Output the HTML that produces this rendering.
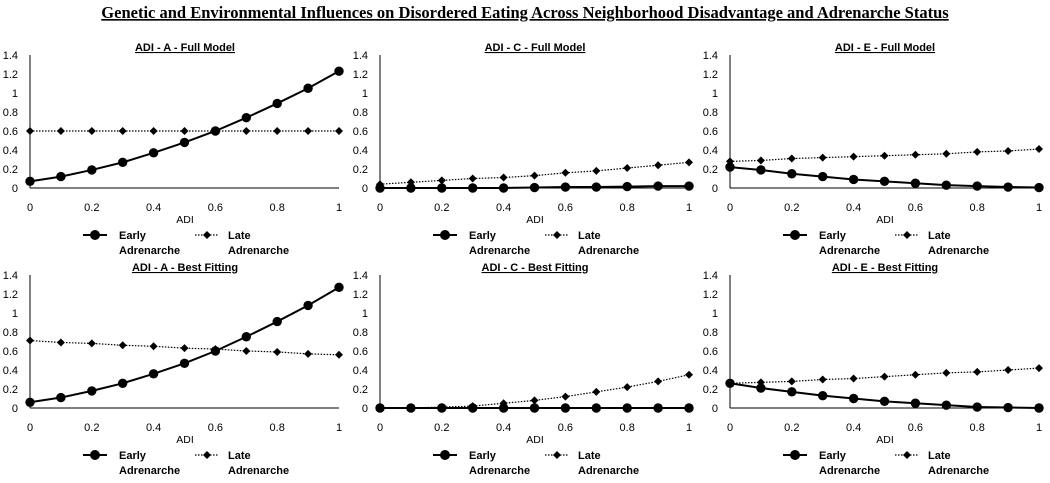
<!DOCTYPE html>
<html><head><meta charset="utf-8"><style>
body{margin:0;background:#fff;width:1050px;height:478px;overflow:hidden}
svg text{font-family:"Liberation Sans",sans-serif;fill:#000}
</style></head><body>
<svg id="c" width="1050" height="478" xmlns="http://www.w3.org/2000/svg">
<text x="525" y="18" text-anchor="middle" font-weight="bold" font-size="16.5" text-decoration="underline" style="font-family:'Liberation Serif',serif">Genetic and Environmental Influences on Disordered Eating Across Neighborhood Disadvantage and Adrenarche Status</text>
</svg>
<script>
const xValues=[0,0.1,0.2,0.3,0.4,0.5,0.6,0.7,0.8,0.9,1];
const yTicks=[0,0.2,0.4,0.6,0.8,1,1.2,1.4];
const yTickLabels=["0","0.2","0.4","0.6","0.8","1","1.2","1.4"];
const xTicks=[0,0.2,0.4,0.6,0.8,1];
const xTickLabels=["0","0.2","0.4","0.6","0.8","1"];
const panelTitles=["ADI - A - Full Model","ADI - C - Full Model","ADI - E - Full Model","ADI - A - Best Fitting","ADI - C - Best Fitting","ADI - E - Best Fitting"];
const earlyAFull=[0.07,0.12,0.19,0.27,0.37,0.48,0.6,0.74,0.89,1.05,1.23];
const lateAFull=[0.6,0.6,0.6,0.6,0.6,0.6,0.6,0.6,0.6,0.6,0.6];
const earlyCFull=[0,0,0,0,0,0.005,0.01,0.01,0.015,0.02,0.02];
const lateCFull=[0.04,0.06,0.08,0.1,0.11,0.13,0.16,0.18,0.21,0.24,0.27];
const earlyEFull=[0.22,0.19,0.15,0.12,0.09,0.07,0.05,0.03,0.02,0.01,0.005];
const lateEFull=[0.28,0.29,0.31,0.32,0.33,0.34,0.35,0.36,0.38,0.39,0.41];
const earlyABest=[0.06,0.11,0.18,0.26,0.36,0.47,0.6,0.75,0.91,1.08,1.27];
const lateABest=[0.71,0.69,0.68,0.66,0.65,0.63,0.62,0.6,0.59,0.57,0.56];
const earlyCBest=[0,0,0,0,0,0,0,0,0,0,0];
const lateCBest=[0,0,0.01,0.02,0.05,0.08,0.12,0.17,0.22,0.28,0.35];
const earlyEBest=[0.26,0.21,0.17,0.13,0.1,0.07,0.05,0.03,0.01,0.005,0];
const lateEBest=[0.26,0.27,0.28,0.3,0.31,0.33,0.35,0.37,0.38,0.4,0.42];
const earlySeries=[earlyAFull,earlyCFull,earlyEFull,earlyABest,earlyCBest,earlyEBest];
const lateSeries=[lateAFull,lateCFull,lateEFull,lateABest,lateCBest,lateEBest];
const NS="http://www.w3.org/2000/svg";
const svg=document.getElementById('c');
function mk(tag,attrs,parent){const e=document.createElementNS(NS,tag);for(const k in attrs)e.setAttribute(k,attrs[k]);(parent||svg).appendChild(e);return e;}
const axLeft=[30,380,730],axW=309;
const row0=[188,408],rowH=133;
for(let p=0;p<6;p++){
  const col=p%3,row=Math.floor(p/3);
  const x0=axLeft[col],y0=row0[row];
  const sx=v=>x0+v*axW, sy=v=>y0-v/1.4*rowH;
  const g=mk('g',{});
  
  
  const t=mk('text',{x:x0+155,y:y0-137,'text-anchor':'middle','font-size':'11','font-weight':'bold','text-decoration':'underline'},g);
  t.textContent=panelTitles[p];
  
  
  const ya=mk('line',{x1:x0,y1:y0,x2:x0,y2:y0-rowH,stroke:'#000','stroke-width':1},g);
  
  
  const xa=mk('line',{x1:x0,y1:y0,x2:x0+axW,y2:y0,stroke:'#000','stroke-width':1},g);
  
  
  yTicks.forEach((v,i)=>{const e=mk('text',{x:x0-12,y:sy(v)+4,'text-anchor':'end','font-size':'11'},g);e.textContent=yTickLabels[i];
    
    });
  xTicks.forEach((v,i)=>{const e=mk('text',{x:sx(v),y:y0+23,'text-anchor':'middle','font-size':'11'},g);e.textContent=xTickLabels[i];
    
    });
  const xt=mk('text',{x:x0+155,y:y0+35,'text-anchor':'middle','font-size':'10.5'},g);xt.textContent='ADI';
  
  
  const late=lateSeries[p],early=earlySeries[p];
  const lp=mk('polyline',{points:xValues.map((x,i)=>sx(x)+','+sy(late[i])).join(' '),fill:'none',stroke:'#000','stroke-width':1.2,'stroke-dasharray':'1.5,1.5'},g);
  
  
  xValues.forEach((x,i)=>{const cx=sx(x),cy=sy(late[i]);const d=mk('polygon',{points:`${cx},${cy-4} ${cx+4},${cy} ${cx},${cy+4} ${cx-4},${cy}`,fill:'#000'},g);
    
    });
  const ep=mk('polyline',{points:xValues.map((x,i)=>sx(x)+','+sy(early[i])).join(' '),fill:'none',stroke:'#000','stroke-width':2},g);
  
  
  xValues.forEach((x,i)=>{const c=mk('circle',{cx:sx(x),cy:sy(early[i]),r:4.7,fill:'#000'},g);
    
    });
  const ly=y0+47;
  const lg=mk('g',{},g);
  
  
  mk('line',{x1:x0+53,y1:ly,x2:x0+77,y2:ly,stroke:'#000','stroke-width':2},lg);
  mk('circle',{cx:x0+65,cy:ly,r:5,fill:'#000'},lg);
  const e1=mk('text',{x:x0+89,y:ly+4,'font-size':'11','font-weight':'bold'},lg);e1.textContent='Early';
  const e2=mk('text',{x:x0+89,y:ly+19,'font-size':'11','font-weight':'bold'},lg);e2.textContent='Adrenarche';
  mk('line',{x1:x0+165,y1:ly,x2:x0+188,y2:ly,stroke:'#000','stroke-width':1.2,'stroke-dasharray':'1.5,1.5'},lg);
  const cx=x0+177;
  mk('polygon',{points:`${cx},${ly-4} ${cx+4},${ly} ${cx},${ly+4} ${cx-4},${ly}`,fill:'#000'},lg);
  const l1=mk('text',{x:x0+198,y:ly+4,'font-size':'11','font-weight':'bold'},lg);l1.textContent='Late';
  const l2=mk('text',{x:x0+198,y:ly+19,'font-size':'11','font-weight':'bold'},lg);l2.textContent='Adrenarche';
}
</script>
</body></html>
